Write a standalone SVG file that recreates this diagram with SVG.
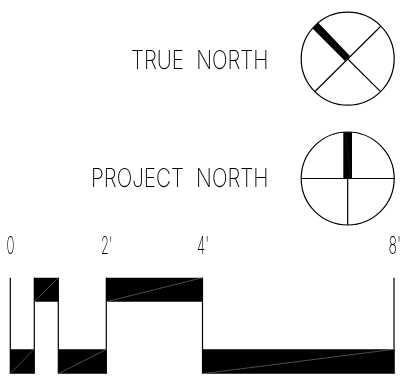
<svg xmlns="http://www.w3.org/2000/svg" width="415" height="391" viewBox="0 0 415 391">
<style>
.l{fill:none;stroke:#000;stroke-width:1.2}
.t{font-family:"Inter","Liberation Sans",sans-serif;font-weight:250;font-size:26px;fill:#000;word-spacing:8px;filter:grayscale(1)}
.n{font-size:24px}
.d{stroke:#999;stroke-width:.5;fill:none}
.h{stroke:#555;stroke-width:.25;fill:none}
.b{fill:#000}
</style>
<rect width="415" height="391" fill="#fff"/>
<g id="true-north">
<circle class="l" cx="347.7" cy="58.7" r="46.5"/>
<path class="l" d="M381 26L314.7 91.7M314.7 26L380.5 91.7"/>
<path class="b" d="M312.3 28.3L318.3 22.7L350 56L345 61Z"/>
<path class="h" d="M315 26L347 58"/>
<text class="t" x="131" y="68.5" textLength="137.5" lengthAdjust="spacingAndGlyphs">TRUE NORTH</text>
</g>
<g id="project-north">
<circle class="l" cx="347.7" cy="178.5" r="46.5"/>
<path class="l" d="M301.2 178.5H394.2M347.7 178.5V225"/>
<rect class="b" x="343.3" y="132.2" width="8.7" height="46.3"/>
<path class="h" d="M345.5 133L351 178"/>
<text class="t" x="91" y="187" textLength="177.5" lengthAdjust="spacingAndGlyphs">PROJECT NORTH</text>
</g>
<g id="scale">
<path class="b" d="M10 349.3H34V373.7H10ZM34 277.7H58.5V301.7H34ZM58.5 349.3H106.5V373.7H58.5ZM106 277.7H202.5V301.7H106ZM202.5 349.3H394.5V373.7H202.5Z"/>
<path class="l" d="M10.3 277.7V373.7M34.3 277.7V373.7M58.3 277.7V373.7M106.3 277.7V373.7M202.5 277.7V373.7M394 277.7V373.7"/>
<path class="d" d="M10 373.7L34 349.3M34 301.7L58.5 277.7M58.5 373.7L106.5 349.3M106.5 301.7L202.5 277.7M202.5 373.7L394 349.3"/>
<text class="t n" x="6.5" y="254" textLength="8" lengthAdjust="spacingAndGlyphs">0</text>
<text class="t n" x="101" y="254" textLength="11.5" lengthAdjust="spacingAndGlyphs">2'</text>
<text class="t n" x="197" y="254" textLength="12" lengthAdjust="spacingAndGlyphs">4'</text>
<text class="t n" x="388.5" y="254" textLength="12.5" lengthAdjust="spacingAndGlyphs">8'</text>
</g>
</svg>
